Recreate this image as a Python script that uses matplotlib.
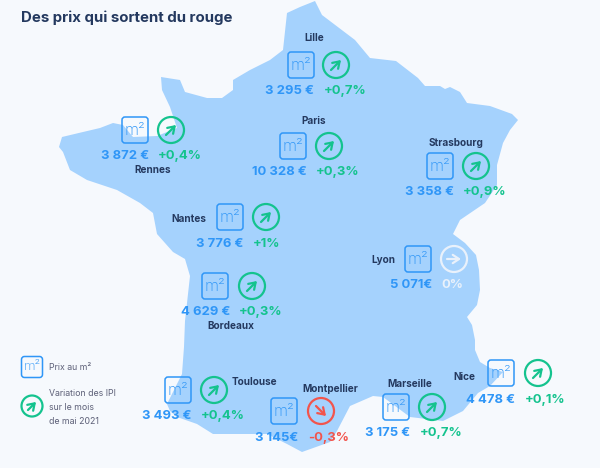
import matplotlib
matplotlib.use("Agg")
import matplotlib.pyplot as plt
from matplotlib.patches import Circle, FancyBboxPatch, Polygon

# ---------- Data ----------
cities = ["Lille", "Rennes", "Paris", "Strasbourg", "Nantes", "Bordeaux",
          "Lyon", "Toulouse", "Montpellier", "Marseille", "Nice"]
prices = ["3 295 €", "3 872 €", "10 328 €", "3 358 €", "3 776 €", "4 629 €",
          "5 071€", "3 493 €", "3 145€", "3 175 €", "4 478 €"]
variations = [0.7, 0.4, 0.3, 0.9, 1, 0.3, 0, 0.4, -0.3, 0.7, 0.1]
variation_labels = ["+0,7%", "+0,4%", "+0,3%", "+0,9%", "+1%", "+0,3%",
                    "0%", "+0,4%", "-0,3%", "+0,7%", "+0,1%"]

# ---------- Layout (pixels) ----------
name_xy = [(314, 38), (153, 170), (314, 121), (456, 143), (189, 219), (231, 326),
           (383, 260), (254, 382), (330, 389), (410, 384), (464, 377)]
box_xy = [(301, 65), (135, 130), (293, 146), (440, 166), (230, 217), (215, 286),
          (418, 259), (178, 390), (284, 411), (396, 407), (501, 373)]
circle_xy = [(336, 65), (171, 130), (329, 146), (476, 166), (266, 217), (252, 286),
             (454, 259), (214, 390), (321, 411), (432, 407), (538, 373)]
price_right = [314, 149, 307, 454, 243, 230, 432, 192, 298, 410, 515]
var_left = [324, 158, 316, 463, 253, 239, 441, 201, 308, 420, 525]
label_y = [91, 156, 172, 192, 244, 312, 285, 416, 438, 433, 400]

france_outline = [
    (315, 1), (322, 15), (355, 40), (370, 58), (396, 61), (418, 78), (425, 86),
    (440, 86), (445, 89), (450, 87), (460, 92), (467, 103), (490, 106), (512, 114),
    (518, 120), (510, 130), (503, 143), (497, 165), (497, 185), (485, 203),
    (460, 220), (453, 234), (465, 243), (476, 255), (479, 270), (480, 290),
    (477, 305), (467, 317), (472, 325), (475, 340), (475, 350), (480, 362),
    (490, 368), (503, 372), (490, 386), (478, 393), (463, 411), (443, 421),
    (410, 417), (383, 397), (373, 396), (350, 406), (337, 431), (330, 442),
    (302, 452), (287, 444), (267, 434), (213, 434), (197, 424), (177, 417),
    (170, 411), (167, 404), (182, 374), (184, 347), (185, 321), (190, 276),
    (185, 259), (173, 252), (157, 234), (153, 213), (140, 203), (117, 190),
    (87, 180), (70, 170), (63, 152), (59, 147), (62, 137), (83, 132), (100, 128),
    (113, 123), (123, 125), (133, 137), (157, 136), (177, 128), (170, 107),
    (162, 90), (161, 77), (180, 80), (185, 92), (207, 98), (222, 98), (233, 90),
    (233, 80), (250, 70), (270, 60), (283, 50), (287, 13), (300, 7),
]

BLUE = "#2f96f7"
GREEN = "#14c38e"
RED = "#f2544c"
WHITE = "#e9f1fb"
NAVY = "#24395f"
FONT = "Inter"


def draw_box(ax, x, y, half=13, size=11.5):
    ax.add_patch(FancyBboxPatch((x - half, y - half), 2 * half, 2 * half,
                                boxstyle="round,pad=0,rounding_size=3",
                                fc="none", ec=BLUE, lw=1.1))
    ax.text(x, y + 0.5, "m²", color=BLUE, fontsize=size, ha="center", va="center",
            family=FONT, fontweight="light")


def draw_circle(ax, x, y, var, r=13):
    color = GREEN if var > 0 else RED if var < 0 else WHITE
    ax.add_patch(Circle((x, y), r, fc="none", ec=color, lw=1.6))
    k = r / 13
    if var > 0:
        tail, head = (x - 5 * k, y + 5 * k), (x + 5 * k, y - 5 * k)
    elif var < 0:
        tail, head = (x - 5 * k, y - 5 * k), (x + 5 * k, y + 5 * k)
    else:
        tail, head = (x - 7 * k, y), (x + 7 * k, y)
    ax.annotate("", xy=head, xytext=tail,
                arrowprops=dict(arrowstyle="->,head_length=0.45,head_width=0.3",
                                color=color, lw=1.6, shrinkA=0, shrinkB=0))


# ---------- Plot ----------
fig = plt.figure(figsize=(6, 4.68), dpi=100, facecolor="#f6f9fd")
ax = fig.add_axes([0, 0, 1, 1])
ax.set_xlim(0, 600)
ax.set_ylim(468, 0)
ax.axis("off")

ax.add_patch(Polygon(france_outline, closed=True, fc="#a5d2fd", ec="none"))

ax.text(21, 18, "Des prix qui sortent du rouge", color=NAVY, fontsize=10.8,
        fontweight="bold", family=FONT, ha="left", va="center")

for i, city in enumerate(cities):
    ax.text(*name_xy[i], city, color=NAVY, fontsize=7.2, fontweight="bold",
            family=FONT, ha="center", va="center")
    draw_box(ax, *box_xy[i])
    draw_circle(ax, *circle_xy[i], variations[i])
    ax.text(price_right[i], label_y[i], prices[i], color=BLUE, fontsize=9.4,
            fontweight="bold", family=FONT, ha="right", va="center")
    var_color = GREEN if variations[i] > 0 else RED if variations[i] < 0 else WHITE
    ax.text(var_left[i], label_y[i], variation_labels[i], color=var_color, fontsize=9.4,
            fontweight="bold", family=FONT, ha="left", va="center")

# ---------- Legend ----------
draw_box(ax, 32, 367, half=10.5, size=9.5)
draw_circle(ax, 32, 406, 1, r=10.5)
ax.text(49, 368, "Prix au m²", color="#5d6078", fontsize=6.3, family=FONT,
        ha="left", va="center")
for y, line in zip([393, 407, 422], ["Variation des IPI", "sur le mois", "de mai 2021"]):
    ax.text(49, y, line, color="#5d6078", fontsize=6.3, family=FONT,
            ha="left", va="center")

fig.savefig("out.png", dpi=100, facecolor=fig.get_facecolor())
